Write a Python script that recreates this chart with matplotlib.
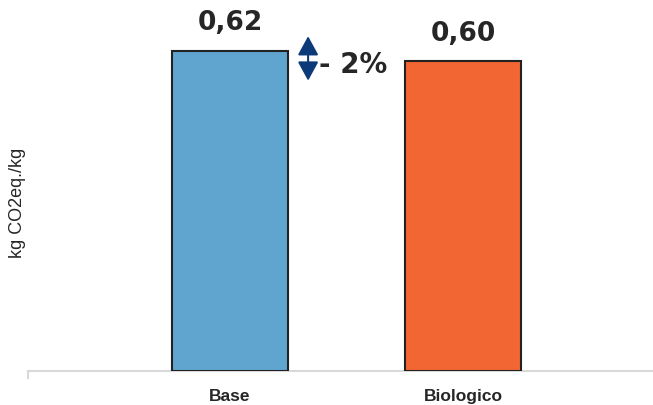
import matplotlib
matplotlib.use("Agg")
import matplotlib.pyplot as plt

categories = ["Base", "Biologico"]
values = [0.62, 0.60]
value_labels = ["0,62", "0,60"]
colors = ["#5fa5cf", "#f26633"]
delta_label = "- 2%"

W, H = 653, 406
fig = plt.figure(figsize=(W / 100, H / 100), dpi=100)
ax = fig.add_axes([28 / W, 34 / H, 625 / W, 372 / H])

x = list(range(len(categories)))
ax.bar(x, values, width=0.5, color=colors, edgecolor="#222222", linewidth=1.5, zorder=3)

ax.set_xlim(-0.867, 1.815)
ax.set_ylim(0, 0.72)

for xi, v, lab in zip(x, values, value_labels):
    ax.annotate(lab, (xi, v), xytext=(0, 11), textcoords="offset points",
                ha="center", va="bottom", fontsize=19, fontweight="bold",
                color="#262626", family="DejaVu Sans")

# double-headed arrow showing the reduction
ax.annotate("", xy=(0.335, 0.648), xytext=(0.335, 0.562),
            arrowprops=dict(arrowstyle="<|-|>,head_width=0.3,head_length=0.55",
                            color="#0b3a78", lw=1.5,
                            mutation_scale=21, shrinkA=0, shrinkB=0))
ax.text(0.38, 0.595, delta_label, ha="left", va="center", fontsize=20,
        fontweight="bold", color="#262626", family="DejaVu Sans")

for s in ["top", "right", "left"]:
    ax.spines[s].set_visible(False)
ax.spines["bottom"].set_color("#d9d9d9")
ax.spines["bottom"].set_linewidth(1.5)

ax.set_yticks([])
ax.set_xticks(x)
ax.set_xticklabels(categories, fontsize=12.5, fontweight="bold",
                   family="Liberation Sans", color="#262626")
ax.tick_params(axis="x", which="major", length=0, pad=12)
ax.set_xticks([-0.867], minor=True)
ax.tick_params(axis="x", which="minor", length=6, width=1.5, color="#d9d9d9")

fig.text(18 / W, 1 - 203 / H, "kg CO2eq./kg", rotation=90, ha="center", va="center",
         fontsize=13, family="Liberation Sans", color="#262626")

fig.savefig("out.png", dpi=100)
